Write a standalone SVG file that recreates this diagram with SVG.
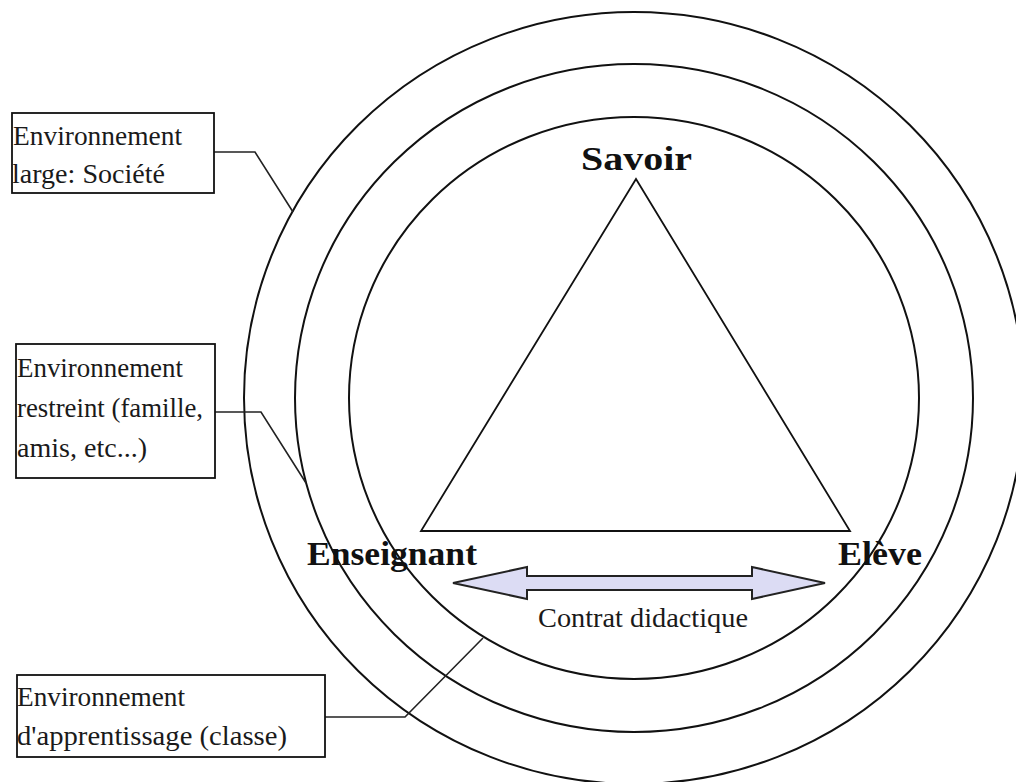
<svg xmlns="http://www.w3.org/2000/svg" width="1016" height="782" viewBox="0 0 1016 782">
<style>
.ring{fill:none;stroke:#111;stroke-width:2}
.box{fill:#fff;stroke:#111;stroke-width:1.8}
.lbl{font-family:"Liberation Serif","Times New Roman",serif;font-size:28px;fill:#1a1a1a}
.big{font-family:"Liberation Serif","Times New Roman",serif;font-size:33px;font-weight:bold;fill:#111}
.conn{fill:none;stroke:#222;stroke-width:1.6}
</style>
<rect width="1016" height="782" fill="#fff"/>
<g id="rings">
<ellipse class="ring" cx="634" cy="398" rx="390" ry="386"/>
<ellipse class="ring" cx="634" cy="398" rx="339" ry="334"/>
<ellipse class="ring" cx="634" cy="398" rx="285" ry="281"/>
</g>
<g id="triangle">
<polygon points="636,179 421,531 850,531" fill="none" stroke="#111" stroke-width="1.8"/>
</g>
<g id="savoir"><text class="big" x="581" y="170" textLength="111" lengthAdjust="spacingAndGlyphs">Savoir</text></g>
<g id="enseignant"><text class="big" x="307" y="565" textLength="170" lengthAdjust="spacingAndGlyphs">Enseignant</text></g>
<g id="eleve"><text class="big" x="838" y="565" textLength="84" lengthAdjust="spacingAndGlyphs">Elève</text></g>
<g id="contrat">
<path d="M453,583 L527,567 L527,576 L752,576 L752,567 L825,583 L752,599 L752,590 L527,590 L527,599 Z" fill="#dcdcf4" stroke="#222" stroke-width="2" stroke-linejoin="miter"/>
<text class="lbl" x="538" y="627" textLength="210" lengthAdjust="spacingAndGlyphs">Contrat didactique</text>
</g>
<g id="connectors">
<polyline class="conn" points="214,152 255,152 293,212"/>
<polyline class="conn" points="215,412 261,412 306,483"/>
<polyline class="conn" points="325,717 405,717 483,638"/>
</g>
<g id="box-large">
<rect class="box" x="12" y="113" width="202" height="80"/>
<text class="lbl" x="13" y="145" textLength="169" lengthAdjust="spacingAndGlyphs">Environnement</text>
<text class="lbl" x="12" y="183" textLength="153" lengthAdjust="spacingAndGlyphs">large: Société</text>
</g>
<g id="box-restreint">
<rect class="box" x="16" y="344" width="199" height="134"/>
<text class="lbl" x="17" y="377" textLength="166" lengthAdjust="spacingAndGlyphs">Environnement</text>
<text class="lbl" x="17" y="417" textLength="186" lengthAdjust="spacingAndGlyphs">restreint (famille,</text>
<text class="lbl" x="17" y="457" textLength="130" lengthAdjust="spacingAndGlyphs">amis, etc...)</text>
</g>
<g id="box-apprentissage">
<rect class="box" x="17" y="675" width="308" height="82"/>
<text class="lbl" x="17" y="706" textLength="168" lengthAdjust="spacingAndGlyphs">Environnement</text>
<text class="lbl" x="17" y="745" textLength="270" lengthAdjust="spacingAndGlyphs">d'apprentissage (classe)</text>
</g>
</svg>
